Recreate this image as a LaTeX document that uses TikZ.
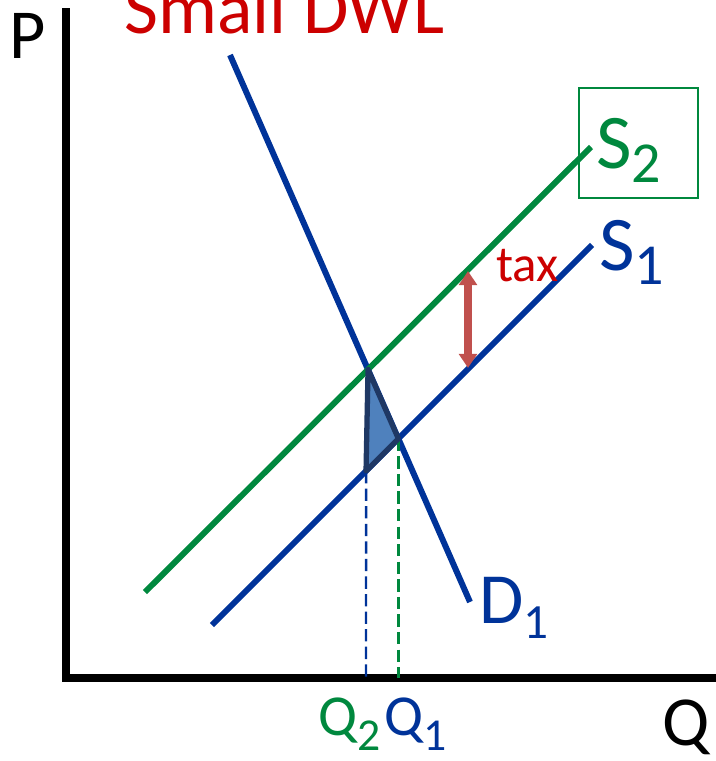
\documentclass[tikz,border=0pt]{standalone}
\usepackage{fontspec}
\setmainfont{Carlito}
\usetikzlibrary{arrows.meta, positioning}
\definecolor{dblue}{RGB}{0,51,153}
\definecolor{dgreen}{RGB}{0,136,62}
\definecolor{dred}{RGB}{204,0,0}
\definecolor{taxred}{RGB}{192,80,77}
\definecolor{dwlfill}{RGB}{79,129,189}
\definecolor{dwlline}{RGB}{31,56,100}
\newcommand{\sublab}[3]{\raisebox{#1}{\fontsize{#2}{#2}\selectfont #3}}

\begin{document}
\begin{tikzpicture}[x=0.02cm, y=-0.02cm,
        axis/.style={line width=4pt, black, line join=miter},
        curve/.style={line width=3.4pt},
        guide/.style={line width=1.4pt, dash pattern=on 7pt off 3pt},
        lab/.style={inner sep=0pt, anchor=base west},
        taxarrow/.style={{Triangle[length=8pt,width=10pt]}-{Triangle[length=8pt,width=10pt]}, line width=4pt, taxred}
    ]
        \useasboundingbox (0,0) rectangle (716,761);
        \clip (0,0) rectangle (716,761);

        % Axes
        \coordinate (ytop) at (66,8);
        \coordinate (origin) at (66,678);
        \coordinate (xend) at (720,678);
        \draw[axis] (ytop) -- (origin) -- (xend);
        \node[lab, font=\fontsize{40}{40}\selectfont] (plab) at (9,58) {P};
        \node[lab, font=\fontsize{40}{40}\selectfont] (qlab) at (662,745) {Q};

        % Demand and supply curves
        \coordinate (d1a) at (230,55);
        \coordinate (d1b) at (470,602);
        \coordinate (s2a) at (145,592);
        \coordinate (s2b) at (591,147);
        \coordinate (s1a) at (212,625);
        \coordinate (s1b) at (592,245);
        \draw[curve, dblue] (d1a) -- (d1b);
        \draw[curve, dgreen] (s2a) -- (s2b);
        \draw[curve, dblue] (s1a) -- (s1b);

        % Equilibria
        \coordinate (e2) at (intersection of d1a--d1b and s2a--s2b);
        \coordinate (e1) at (intersection of d1a--d1b and s1a--s1b);
        \coordinate (q2base) at (366,678);
        \coordinate (q2top) at (intersection of s1a--s1b and q2base--366,300);
        \coordinate (q1base) at (e1 |- origin);
        \draw[guide, dblue] (q2top) -- (q2base);
        \draw[guide, dgreen] (e1) -- (q1base);

        % Deadweight loss
        \filldraw[fill=dwlfill, draw=dwlline, line width=3pt, line join=round] (e2) -- (e1) -- (q2top) -- cycle;

        % Tax wedge
        \coordinate (taxtop) at (468,271);
        \coordinate (taxbot) at (468,368);
        \draw[taxarrow] (taxtop) -- (taxbot);
        \node[lab, dred, font=\fontsize{29}{29}\selectfont] (taxlab) at (496,281) {tax};

        % Labels
        \node[lab, dred, font=\fontsize{42}{42}\selectfont] (title) at (124,33) {Small DWL};
        \node[lab, dblue, font=\fontsize{41}{41}\selectfont] (dlab) at (479,623) {D\sublab{-9pt}{28}{1}};
        \node[lab, dgreen, font=\fontsize{44}{44}\selectfont] (s2lab) at (596,168) {S\sublab{-8pt}{33}{2}};
        \node[lab, dblue, font=\fontsize{44}{44}\selectfont] (s1lab) at (599,270) {S\sublab{-8pt}{33}{1}};
        \draw[dgreen, line width=1pt] (579,88) rectangle (698,198);
        \node[lab, dgreen, font=\fontsize{33}{33}\selectfont] (q2lab) at (318,735) {Q\sublab{-9pt}{26}{2}};
        \node[lab, dblue, font=\fontsize{33}{33}\selectfont] (q1lab) at (384,735) {Q\sublab{-9pt}{26}{1}};
    \end{tikzpicture}
\end{document}
